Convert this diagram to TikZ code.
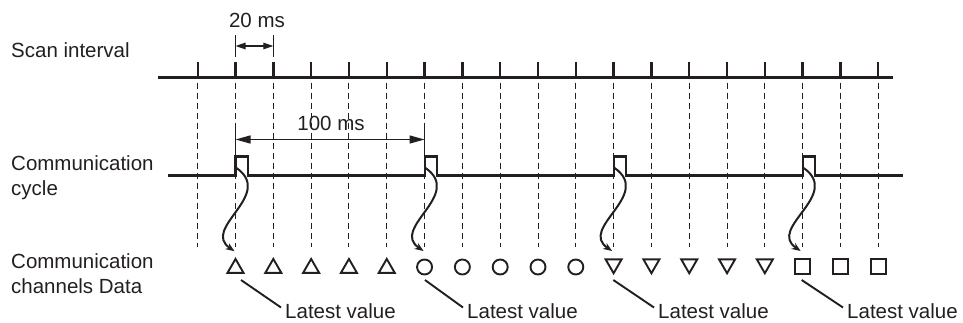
\documentclass[tikz,border=0pt]{standalone}
\usepackage{fontspec}
\setmainfont{Liberation Sans}
\usetikzlibrary{shapes.geometric,arrows.meta}
\definecolor{ink}{HTML}{231F20}
\begin{document}
\begin{tikzpicture}[x=1pt,y=1pt,
  lbl/.style={inner sep=0pt,anchor=base west,text=ink,font=\fontsize{20.5}{25}\selectfont},
  dimtxt/.style={inner sep=0pt,anchor=base,text=ink,font=\fontsize{20.5}{25}\selectfont},
  axisline/.style={draw=ink,line width=2.4pt},
  sigline/.style={draw=ink,line width=2.1pt,line join=miter},
  guide/.style={draw=ink,line width=0.9pt,dash pattern=on 6pt off 4pt},
  dimbar/.style={draw=ink,line width=1.2pt},
  dimsmall/.style={draw=ink,line width=1.3pt,{Triangle[length=10pt,width=6.5pt]}-{Triangle[length=10pt,width=6.5pt]}},
  dimbig/.style={draw=ink,line width=1.3pt,{Triangle[length=15pt,width=8pt]}-{Triangle[length=15pt,width=8pt]}},
  wave/.style={draw=ink,line width=2pt,-{Stealth[length=9pt,width=7pt]}},
  leader/.style={draw=ink,line width=1.9pt},
  mk/.style={draw=ink,line width=1.9pt,inner sep=0pt},
  tri/.style={mk,regular polygon,regular polygon sides=3,minimum size=18.5pt},
  itri/.style={mk,regular polygon,regular polygon sides=3,minimum size=18.5pt,shape border rotate=180},
  circ/.style={mk,circle,minimum size=15pt},
  sq/.style={mk,rectangle,minimum size=15pt}
]
\useasboundingbox (0,0) rectangle (963,322);

% tick coordinates
\foreach \k in {0,...,18} {
  \coordinate (t\k) at ({197.7+37.81*\k},244.5);
}
% dashed guides
\foreach \k in {0,...,18} {
  \draw[guide] ([yshift=-5pt]t\k) -- ([yshift=-169pt]t\k);
}
% scan line
\coordinate (sa) at (158,244.5);
\coordinate (sb) at (893,244.5);
\draw[axisline] (sa) -- (sb);
\foreach \k in {0,...,18} {
  \draw[axisline] ([yshift=-1pt]t\k) -- ([yshift=15.5pt]t\k);
}

% communication cycle signal
\coordinate (ca) at (168,146.5);
\coordinate (cb) at (903,146.5);
\foreach \k/\n in {1/1,6/2,11/3,16/4} {
  \coordinate (p\n) at (t\k |- ca);
}
\draw[sigline] (ca) -- (p1) -- ++(0,19) -- ++(12.5,0) -- ++(0,-19)
  -- (p2) -- ++(0,19) -- ++(12.5,0) -- ++(0,-19)
  -- (p3) -- ++(0,19) -- ++(12.5,0) -- ++(0,-19)
  -- (p4) -- ++(0,19) -- ++(12.5,0) -- ++(0,-19) -- (cb);

% 20 ms dimension
\draw[dimbar] ([yshift=20.5pt]t1) -- ([yshift=42.5pt]t1);
\draw[dimbar] ([yshift=20.5pt]t2) -- ([yshift=42.5pt]t2);
\draw[dimsmall] ([yshift=31.5pt]t1) -- ([yshift=31.5pt]t2);
\node[dimtxt] (d20) at (257,294) {20 ms};

% 100 ms dimension
\draw[dimbar] ([yshift=19pt]p1) -- ([yshift=52.5pt]p1);
\draw[dimbar] ([yshift=19pt]p2) -- ([yshift=52.5pt]p2);
\draw[dimbig] ([yshift=36pt]p1) -- ([yshift=36pt]p2);
\node[dimtxt] (d100) at (331,192) {100 ms};

% markers
\foreach \k in {1,...,5}   { \node[tri]  (m\k) at ({197.7+37.81*\k},53.8) {}; }
\foreach \k in {6,...,10}  { \node[circ] (m\k) at ({197.7+37.81*\k},55) {}; }
\foreach \k in {11,...,15} { \node[itri] (m\k) at ({197.7+37.81*\k},58) {}; }
\foreach \k in {16,17,18}  { \node[sq]   (m\k) at ({197.7+37.81*\k},55.5) {}; }

% wavy arrows
\draw[wave] ([xshift=1pt,yshift=7.5pt]p1) .. controls +(38.5,-27) and +(-34,23) .. ([xshift=-1pt,yshift=17pt]m1.center);
\draw[wave] ([xshift=1pt,yshift=7.5pt]p2) .. controls +(38.5,-27) and +(-34,23) .. ([xshift=-1pt,yshift=16pt]m6.center);
\draw[wave] ([xshift=1pt,yshift=7.5pt]p3) .. controls +(38.5,-27) and +(-34,23) .. ([xshift=-1.5pt,yshift=13pt]m11.center);
\draw[wave] ([xshift=1pt,yshift=7.5pt]p4) .. controls +(38.5,-27) and +(-34,23) .. ([xshift=-2pt,yshift=15.5pt]m16.center);

% latest value labels
\node[lbl] (l1) at (285,3.5) {Latest value};
\node[lbl] (l2) at (467,3.5) {Latest value};
\node[lbl] (l3) at (658,3.5) {Latest value};
\node[lbl] (l4) at (847,3.5) {Latest value};
\draw[leader] ([xshift=5.5pt,yshift=-11.8pt]m1.center) -- ([xshift=-4pt,yshift=11pt]l1.base west);
\draw[leader] ([xshift=0.4pt,yshift=-13pt]m6.center) -- ([xshift=-4pt,yshift=11pt]l2.base west);
\draw[leader] ([xshift=-0.3pt,yshift=-16pt]m11.center) -- ([xshift=-4pt,yshift=11pt]l3.base west);
\draw[leader] ([xshift=-1pt,yshift=-13.5pt]m16.center) -- ([xshift=-4pt,yshift=11pt]l4.base west);

% left labels
\node[lbl] (s1) at (11,264) {Scan interval};
\node[lbl] (c1) at (11,152) {Communication};
\node[lbl] (c2) at (11,127) {cycle};
\node[lbl] (h1) at (11,54) {Communication};
\node[lbl] (h2) at (11,29) {channels Data};
\end{tikzpicture}
\end{document}
